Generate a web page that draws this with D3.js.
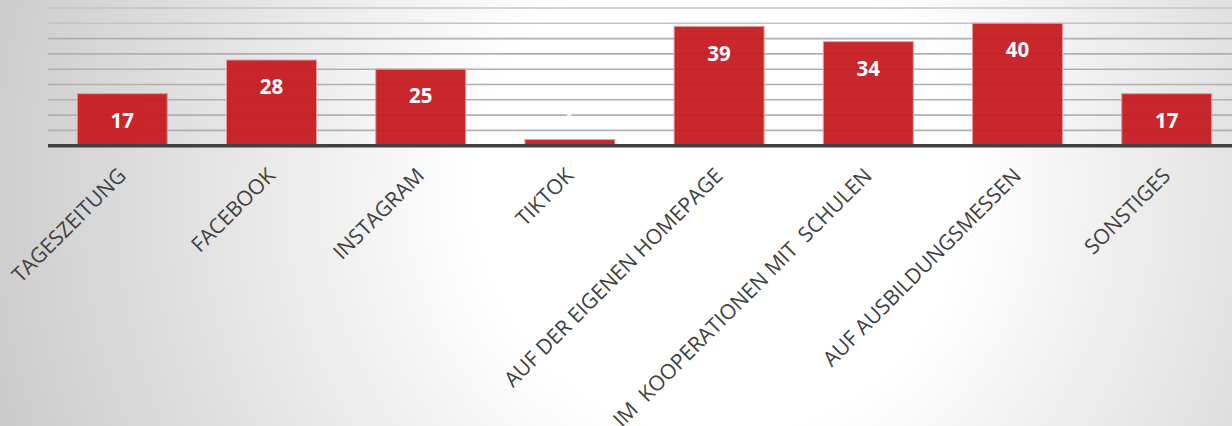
<!DOCTYPE html>
<html>
<head>
<meta charset="utf-8">
<script src="https://cdn.jsdelivr.net/npm/d3@7"></script>
<style>
  html, body { margin: 0; padding: 0; overflow: hidden; }
  svg { display: block; }
  .cat { font-family: "Open Sans", sans-serif; fill: #404040; white-space: pre; }
  .val { font-family: "Open Sans", sans-serif; font-weight: bold; fill: #fff; }
</style>
</head>
<body>
<main></main>
<script>
// data
const categories = ["TAGESZEITUNG", "FACEBOOK", "INSTAGRAM", "TIKTOK",
  "AUF DER EIGENEN HOMEPAGE", "IM  KOOPERATIONEN MIT  SCHULEN", "AUF AUSBILDUNGSMESSEN", "SONSTIGES"];
const values = [17, 28, 25, 2, 39, 34, 40, 17];
const gridTicks = [5, 10, 15, 20, 25, 30, 35, 40, 45];

const w = 1232;
const h = 426;

const svg = d3.select("main").append("svg")
  .attr("width", w)
  .attr("height", h);

// background: soft radial gradient, white in the middle, grey at the edges
const grad = svg.append("defs").append("radialGradient")
  .attr("id", "bg")
  .attr("gradientUnits", "userSpaceOnUse")
  .attr("cx", 720).attr("cy", 190).attr("r", 760);
grad.append("stop").attr("offset", "0%").attr("stop-color", "#ffffff");
grad.append("stop").attr("offset", "32%").attr("stop-color", "#ffffff");
grad.append("stop").attr("offset", "100%").attr("stop-color", "#cacaca");

svg.append("rect").attr("width", w).attr("height", h).attr("fill", "url(#bg)");

const x = d3.scaleBand()
  .domain(categories)
  .range([47.7, 1241.3])
  .paddingInner(0.397)
  .paddingOuter(0.1985);

const y = d3.scaleLinear()
  .domain([0, 45])
  .range([145.7, 8]);

// horizontal gridlines
svg.append("g")
  .selectAll("line")
  .data(gridTicks)
  .enter()
  .append("line")
  .attr("x1", 48)
  .attr("x2", w)
  .attr("y1", d => y(d))
  .attr("y2", d => y(d))
  .attr("stroke", d => (d >= 40 ? "#c4c4c4" : "#b0b0b0"))
  .attr("stroke-width", 1.6);

// bars
svg.append("g")
  .selectAll("rect")
  .data(values)
  .enter()
  .append("rect")
  .attr("x", (d, i) => x(categories[i]))
  .attr("y", d => y(d))
  .attr("width", x.bandwidth())
  .attr("height", d => y(0) - y(d))
  .attr("fill", "#c51b21")
  .attr("fill-opacity", 0.95)
  .attr("stroke", "#e69a9c")
  .attr("stroke-width", 1);

// value labels (inside end, above the bar if it is too short)
svg.append("g")
  .selectAll("text")
  .data(values)
  .enter()
  .append("text")
  .attr("class", "val")
  .attr("x", (d, i) => x(categories[i]) + x.bandwidth() / 2)
  .attr("y", d => (y(0) - y(d) > 40 ? y(d) + 27 : y(d) - 27))
  .attr("dy", "0.35em")
  .attr("text-anchor", "middle")
  .attr("font-size", 20.5)
  .text(d => d);

// x axis line
svg.append("line")
  .attr("x1", 48)
  .attr("x2", w)
  .attr("y1", y(0))
  .attr("y2", y(0))
  .attr("stroke", "#404040")
  .attr("stroke-width", 3.5);

// category labels, rotated -45deg
svg.append("g")
  .selectAll("text")
  .data(categories)
  .enter()
  .append("text")
  .attr("class", "cat")
  .attr("font-size", 21)
  .attr("text-anchor", "end")
  .attr("transform", d => `translate(${x(d) + x.bandwidth() / 2 + 5}, 177) rotate(-45)`)
  .text(d => d);
</script>
</body>
</html>
